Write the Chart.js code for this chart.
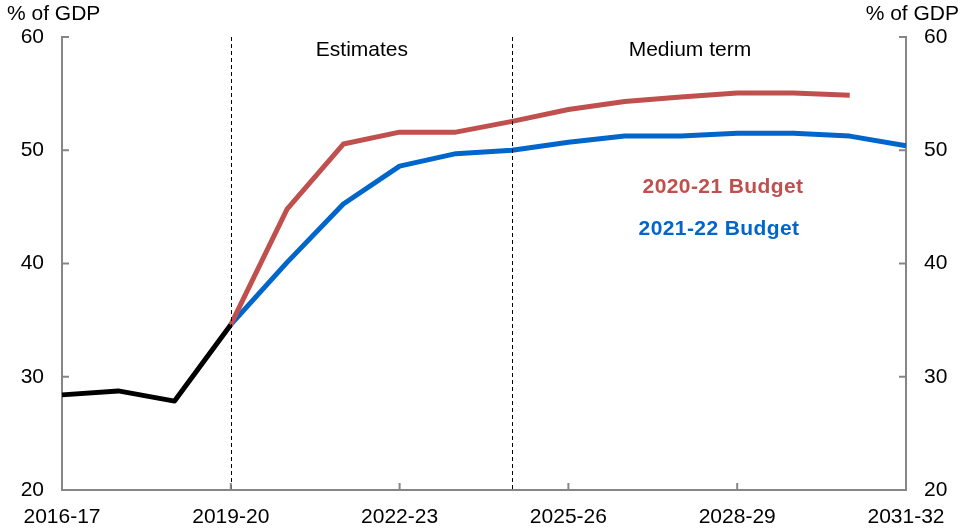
<!DOCTYPE html>
<html lang="en">
  <head>
    <meta charset="UTF-8" />
    <title>Net debt projections</title>
    <script src="https://cdn.jsdelivr.net/npm/chart.js"></script>
    <style>
      html, body { margin: 0; padding: 0; background: #fff; }
      #wrap { width: 961px; height: 531px; }
    </style>
  </head>
  <body>
    <div id="wrap"><canvas id="debtChart"></canvas></div>

    <script>
// Financial years on the x axis
const years = [
  '2016-17', '2017-18', '2018-19', '2019-20', '2020-21', '2021-22',
  '2022-23', '2023-24', '2024-25', '2025-26', '2026-27', '2027-28',
  '2028-29', '2029-30', '2030-31', '2031-32'
];

// Outcomes up to 2019-20
const actuals = [28.4, 28.75, 27.85, 34.6, null, null, null, null, null, null, null, null, null, null, null, null];

// 2020-21 Budget projections
const budget2021 = [null, null, null, 34.6, 44.8, 50.55, 51.6, 51.6, 52.55, 53.6, 54.3, 54.7, 55.05, 55.05, 54.85, null];

// 2021-22 Budget projections
const budget2122 = [null, null, null, 34.6, 40.1, 45.25, 48.6, 49.7, 50.0, 50.7, 51.25, 51.25, 51.5, 51.5, 51.25, 50.4];

const yTicks = [20, 30, 40, 50, 60];
const shownYears = ['2016-17', '2019-20', '2022-23', '2025-26', '2028-29', '2031-32'];

// period dividers and their headings
const dividers = ['2019-20', '2024-25'];
const periods = [
  { text: 'Estimates', at: 5.33 },
  { text: 'Medium term', at: 11.16 }
];

const RED = '#C0504D';
const BLUE = '#0066CC';
const AXIS = '#868686';
const FONT = '"Liberation Sans", Arial, sans-serif';

// draws the dashed dividers, inward tick marks and the text labels
const decorations = {
  id: 'decorations',
  afterDraw(chart) {
    const ctx = chart.ctx;
    const x = chart.scales.x;
    const yl = chart.scales.y;
    const yr = chart.scales.y2;
    const area = chart.chartArea;
    ctx.save();

    // dashed dividers
    ctx.strokeStyle = '#000';
    ctx.lineWidth = 1;
    ctx.setLineDash([4, 3]);
    dividers.forEach(d => {
      const px = Math.round(x.getPixelForValue(years.indexOf(d))) + 0.5;
      ctx.beginPath();
      ctx.moveTo(px, area.top);
      ctx.lineTo(px, area.bottom);
      ctx.stroke();
    });
    ctx.setLineDash([]);

    // inward ticks
    ctx.strokeStyle = AXIS;
    ctx.lineWidth = 2;
    yTicks.forEach(v => {
      const py = yl.getPixelForValue(v);
      ctx.beginPath();
      ctx.moveTo(area.left, py);
      ctx.lineTo(area.left + 7, py);
      ctx.stroke();
      const py2 = yr.getPixelForValue(v);
      ctx.beginPath();
      ctx.moveTo(area.right, py2);
      ctx.lineTo(area.right - 7, py2);
      ctx.stroke();
    });
    shownYears.forEach(l => {
      const px = x.getPixelForValue(years.indexOf(l));
      ctx.beginPath();
      ctx.moveTo(px, area.bottom);
      ctx.lineTo(px, area.bottom - 7);
      ctx.stroke();
    });

    // axis units
    ctx.fillStyle = '#000';
    ctx.font = '21px ' + FONT;
    ctx.textBaseline = 'middle';
    ctx.textAlign = 'left';
    ctx.fillText('% of GDP', 7, 14);
    ctx.textAlign = 'right';
    ctx.fillText('% of GDP', 959, 14);

    // period headings
    ctx.textAlign = 'center';
    periods.forEach(p => {
      ctx.fillText(p.text, x.getPixelForValue(p.at), 50);
    });

    // series labels
    ctx.font = 'bold 21px ' + FONT;
    ctx.letterSpacing = '0.4px';
    ctx.fillStyle = RED;
    ctx.fillText('2020-21 Budget', 723, 187);
    ctx.fillStyle = BLUE;
    ctx.fillText('2021-22 Budget', 719, 229);
    ctx.restore();
  }
};

const lineStyle = {
  borderWidth: 5,
  pointRadius: 0,
  tension: 0,
  fill: false,
  spanGaps: false,
  borderJoinStyle: 'round',
  borderCapStyle: 'butt'
};

const tickFont = { family: FONT, size: 21 };

new Chart(document.getElementById('debtChart'), {
  type: 'line',
  data: {
    labels: years,
    datasets: [
      Object.assign({ label: '2020-21 Budget', data: budget2021, borderColor: RED }, lineStyle),
      Object.assign({ label: '2021-22 Budget', data: budget2122, borderColor: BLUE }, lineStyle),
      Object.assign({ label: 'Actual', data: actuals, borderColor: '#000' }, lineStyle)
    ]
  },
  options: {
    responsive: true,
    maintainAspectRatio: false,
    animation: false,
    layout: { padding: { top: 37, left: 0, right: 0, bottom: 0 } },
    plugins: {
      legend: { display: false },
      tooltip: { enabled: false }
    },
    scales: {
      x: {
        type: 'category',
        offset: false,
        grid: { display: false, drawTicks: false },
        border: { display: true, color: AXIS, width: 2 },
        afterFit(scale) { scale.height = 41; },
        ticks: {
          autoSkip: false,
          maxRotation: 0,
          padding: 15,
          color: '#000',
          font: tickFont,
          callback(value, index) {
            const l = years[index];
            return shownYears.includes(l) ? l : '';
          }
        }
      },
      y: {
        position: 'left',
        min: 20,
        max: 60,
        grid: { display: false, drawTicks: false },
        border: { display: true, color: AXIS, width: 2 },
        afterFit(scale) { scale.width = 62; },
        ticks: {
          stepSize: 10,
          padding: 18,
          color: '#000',
          font: tickFont
        }
      },
      y2: {
        position: 'right',
        min: 20,
        max: 60,
        grid: { display: false, drawTicks: false },
        border: { display: true, color: AXIS, width: 2 },
        afterFit(scale) { scale.width = 55; },
        ticks: {
          stepSize: 10,
          padding: 18,
          color: '#000',
          font: tickFont
        }
      }
    }
  },
  plugins: [decorations]
});
    </script>
  </body>
</html>
